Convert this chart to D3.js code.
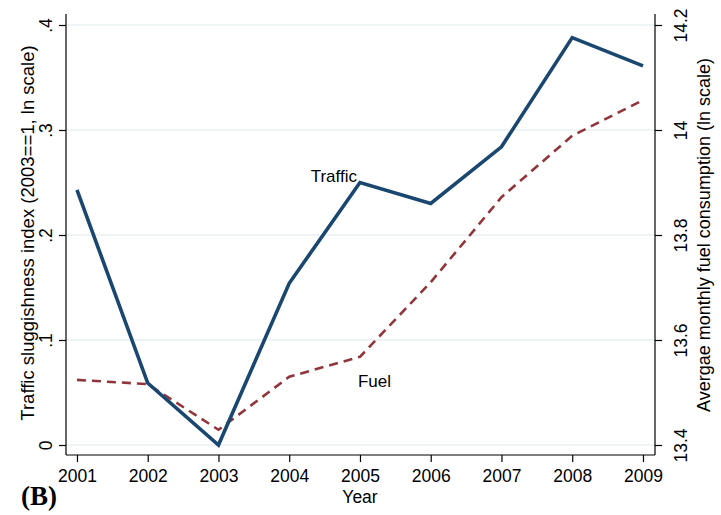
<!DOCTYPE html>
<html>
<head>
<meta charset="utf-8">
<script src="https://cdn.jsdelivr.net/npm/d3@7"></script>
<style>
  body { margin: 0; background: #fff; }
  text { font-family: "Liberation Sans", Arial, sans-serif; fill: #000; }
</style>
</head>
<body>
<svg id="chart"></svg>
<script>
const years = [2001, 2002, 2003, 2004, 2005, 2006, 2007, 2008, 2009];
const traffic = [0.243, 0.059, 0.0, 0.154, 0.250, 0.230, 0.284, 0.388, 0.361];
const fuel = [13.524, 13.516, 13.429, 13.530, 13.568, 13.710, 13.872, 13.989, 14.057];
const leftTicks = [0, 0.1, 0.2, 0.3, 0.4];
const leftTickLabels = ["0", ".1", ".2", ".3", ".4"];
const rightTicks = [13.4, 13.6, 13.8, 14, 14.2];

const W = 721, H = 515;
const margin = { top: 14, right: 66, bottom: 60, left: 66 };

const svg = d3.select("#chart").attr("width", W).attr("height", H);

const x = d3.scaleLinear().domain([2000.845, 2009.17]).range([margin.left, W - margin.right]);
const yL = d3.scaleLinear().domain([0, 0.4]).range([445, 25]);
const yR = d3.scaleLinear().domain([13.4, 14.2]).range([445, 25]);

// gridlines
svg.append("g")
  .selectAll("line")
  .data(leftTicks)
  .join("line")
  .attr("x1", margin.left).attr("x2", W - margin.right)
  .attr("y1", d => yL(d)).attr("y2", d => yL(d))
  .attr("stroke", "#e8f0f2").attr("stroke-width", 1.5);

// axes
const xAxis = svg.append("g")
  .attr("transform", `translate(0, ${H - margin.bottom})`)
  .call(d3.axisBottom(x).tickValues(years).tickFormat(d3.format("d")).tickSize(7).tickPadding(4).tickSizeOuter(0));

const leftAxis = svg.append("g")
  .attr("transform", `translate(${margin.left}, 0)`)
  .call(d3.axisLeft(yL).tickValues(leftTicks).tickFormat((d, i) => leftTickLabels[i]).tickSize(7).tickSizeOuter(0));

const rightAxis = svg.append("g")
  .attr("transform", `translate(${W - margin.right}, 0)`)
  .call(d3.axisRight(yR).tickValues(rightTicks).tickFormat(d3.format("")).tickSize(7).tickSizeOuter(0));

// extend axis lines to frame
[leftAxis, rightAxis].forEach(g => g.select(".domain").attr("d", `M0,${margin.top}V${H - margin.bottom}`));
xAxis.select(".domain").attr("d", `M${margin.left},0H${W - margin.right}`);

svg.selectAll(".domain, .tick line").attr("stroke", "#000").attr("stroke-width", 1.2);

xAxis.selectAll("text").style("font-size", "17.5px").attr("dy", "0.9em");

leftAxis.selectAll(".tick text")
  .style("font-size", "17.5px")
  .attr("x", null).attr("dy", null)
  .attr("text-anchor", "middle")
  .attr("transform", "translate(-14,0) rotate(-90)");

rightAxis.selectAll(".tick text")
  .style("font-size", "17.5px")
  .attr("x", null).attr("dy", null)
  .attr("text-anchor", "middle")
  .attr("transform", "translate(32,0) rotate(-90)");

// axis titles
svg.append("text")
  .attr("transform", `translate(34, 233) rotate(-90)`)
  .attr("text-anchor", "middle")
  .style("font-size", "18.5px")
  .text("Traffic sluggishness index (2003==1, ln scale)");

svg.append("text")
  .attr("transform", `translate(710, 235) rotate(-90)`)
  .attr("text-anchor", "middle")
  .style("font-size", "18px")
  .text("Avergae monthly fuel consumption (ln scale)");

svg.append("text")
  .attr("x", 360).attr("y", 503)
  .attr("text-anchor", "middle")
  .style("font-size", "17.5px")
  .text("Year");

svg.append("text")
  .attr("x", 21).attr("y", 505)
  .style("font-family", "'Liberation Serif', 'Times New Roman', serif")
  .style("font-weight", "bold")
  .style("font-size", "27px")
  .text("(B)");

// lines
const lineL = d3.line().x((d, i) => x(years[i])).y(d => yL(d));
const lineR = d3.line().x((d, i) => x(years[i])).y(d => yR(d));

svg.append("path")
  .datum(fuel)
  .attr("d", lineR)
  .attr("fill", "none")
  .attr("stroke", "#90353b")
  .attr("stroke-width", 2.6)
  .attr("stroke-dasharray", "9,6");

svg.append("path")
  .datum(traffic)
  .attr("d", lineL)
  .attr("fill", "none")
  .attr("stroke", "#1a476f")
  .attr("stroke-width", 3.6)
  .attr("stroke-linejoin", "miter");

// series labels
svg.append("text")
  .attr("x", x(2005) - 3).attr("y", yL(traffic[4]) - 1)
  .attr("text-anchor", "end")
  .style("font-size", "17px")
  .text("Traffic");

svg.append("text")
  .attr("x", x(2005) - 2).attr("y", yR(fuel[4]) + 30)
  .style("font-size", "17px")
  .text("Fuel");
</script>
</body>
</html>
